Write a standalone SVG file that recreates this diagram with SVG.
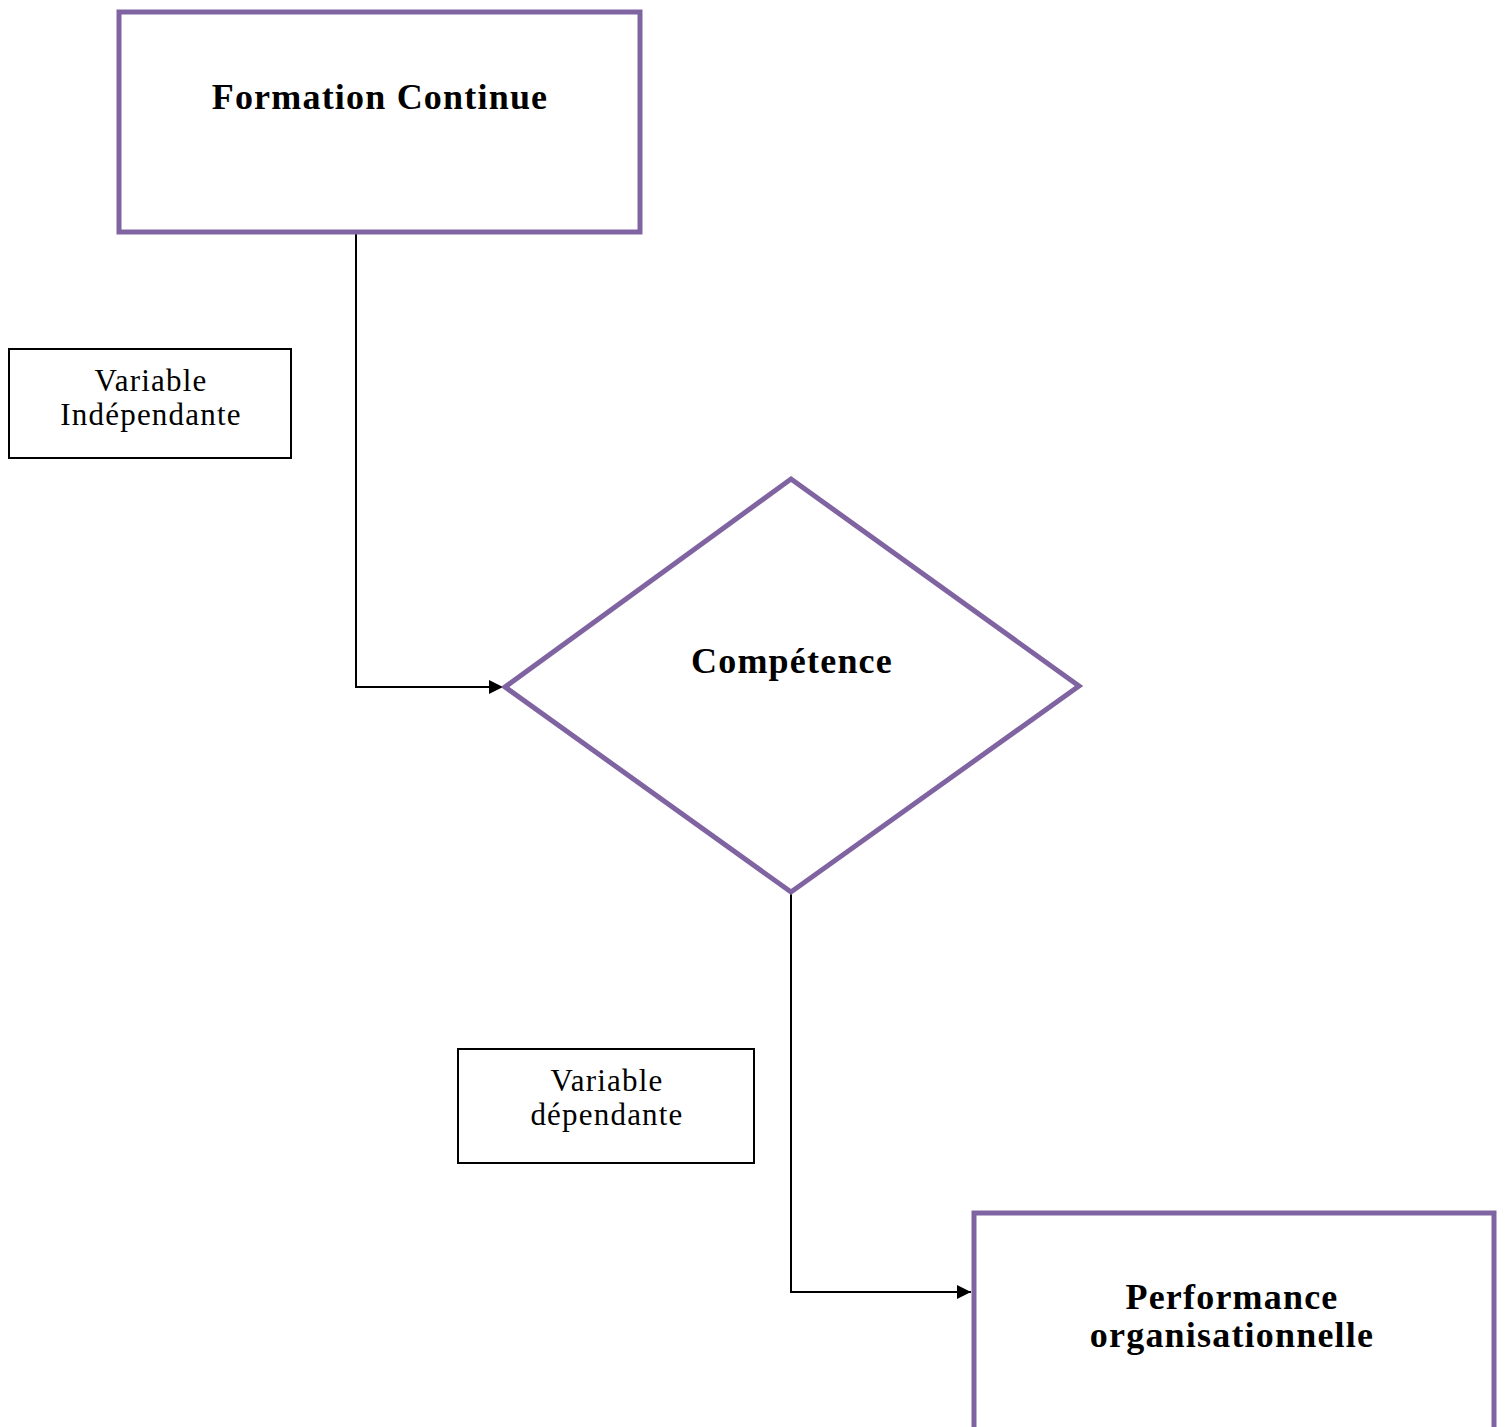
<svg xmlns="http://www.w3.org/2000/svg" width="1505" height="1427" viewBox="0 0 1505 1427">
<style>
.node{fill:#fff;stroke:#8064A2;stroke-width:5}
.lbl{fill:#fff;stroke:#000;stroke-width:2}
.conn{fill:none;stroke:#000;stroke-width:2}
.b{font-family:"Liberation Serif",serif;font-weight:bold;font-size:36px;letter-spacing:1.2px;text-anchor:middle;fill:#000}
.r{font-family:"Liberation Serif",serif;font-size:31px;letter-spacing:1.2px;text-anchor:middle;fill:#000}
</style>
<defs>
<marker id="arr" viewBox="0 0 10 10" refX="10" refY="5" markerWidth="7" markerHeight="7" orient="auto" markerUnits="strokeWidth">
<path d="M0,0 L10,5 L0,10 z" fill="#000"/>
</marker>
</defs>
<rect width="1505" height="1427" fill="#fff"/>
<g id="connectors">
<path class="conn" d="M356,232 V687 H503" marker-end="url(#arr)"/>
<path class="conn" d="M791,892 V1292 H971" marker-end="url(#arr)"/>
</g>
<g id="formation">
<rect class="node" x="119" y="12" width="521" height="220"/>
<text class="b" x="380" y="109">Formation Continue</text>
</g>
<g id="var-indep">
<rect class="lbl" x="9" y="349" width="282" height="109"/>
<text class="r" x="151" y="391">Variable</text>
<text class="r" x="151" y="425">Indépendante</text>
</g>
<g id="competence">
<polygon class="node" points="791,479 1079,686 791,892 505,687"/>
<text class="b" x="792" y="673">Compétence</text>
</g>
<g id="var-dep">
<rect class="lbl" x="458" y="1049" width="296" height="114"/>
<text class="r" x="607" y="1091">Variable</text>
<text class="r" x="607" y="1125">dépendante</text>
</g>
<g id="performance">
<rect class="node" x="974" y="1213" width="520" height="220"/>
<text class="b" x="1232" y="1309">Performance</text>
<text class="b" x="1232" y="1347">organisationnelle</text>
</g>
</svg>
